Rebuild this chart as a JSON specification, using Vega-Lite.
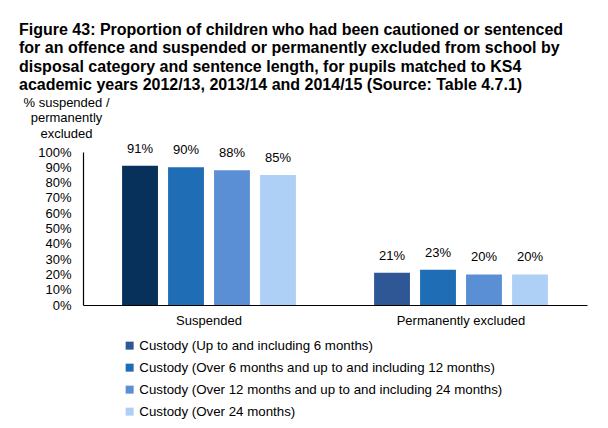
{
  "$schema": "https://vega.github.io/schema/vega-lite/v6.json",
  "width": 504,
  "height": 153,
  "autosize": {"type": "none"},
  "padding": {"left": 83, "top": 152, "right": 21, "bottom": 123},
  "background": "white",
  "config": {
    "view": {"stroke": null},
    "font": "Liberation Sans"
  },
  "title": {
    "text": [
      "Figure 43: Proportion of children who had been cautioned or sentenced",
      "for an offence and suspended or permanently excluded from school by",
      "disposal category and sentence length, for pupils matched to KS4",
      "academic years 2012/13, 2013/14 and 2014/15 (Source: Table 4.7.1)"
    ],
    "anchor": "start",
    "frame": "group",
    "dx": -64,
    "offset": 3,
    "fontSize": 16,
    "fontWeight": "bold",
    "lineHeight": 18.3,
    "color": "#000000",
    "font": "Liberation Sans"
  },
  "data": {
    "values": [
      {"group": "Suspended", "cat": "Custody (Up to and including 6 months)", "value": 0.91},
      {"group": "Suspended", "cat": "Custody (Over 6 months and up to and including 12 months)", "value": 0.90},
      {"group": "Suspended", "cat": "Custody (Over 12 months and up to and including 24 months)", "value": 0.88},
      {"group": "Suspended", "cat": "Custody (Over 24 months)", "value": 0.85},
      {"group": "Permanently excluded", "cat": "Custody (Up to and including 6 months)", "value": 0.21},
      {"group": "Permanently excluded", "cat": "Custody (Over 6 months and up to and including 12 months)", "value": 0.23},
      {"group": "Permanently excluded", "cat": "Custody (Over 12 months and up to and including 24 months)", "value": 0.20},
      {"group": "Permanently excluded", "cat": "Custody (Over 24 months)", "value": 0.20}
    ]
  },
  "encoding": {
    "x": {
      "field": "group",
      "type": "nominal",
      "sort": ["Suspended", "Permanently excluded"],
      "scale": {"paddingInner": 0, "paddingOuter": 0},
      "axis": {
        "title": null,
        "labelAngle": 0,
        "labelFontSize": 13,
        "labelColor": "#000000",
        "labelPadding": 9,
        "ticks": false,
        "tickSize": 0,
        "domainColor": "#000000",
        "domainWidth": 1.2
      }
    },
    "xOffset": {
      "field": "cat",
      "type": "nominal",
      "sort": [
        "Custody (Up to and including 6 months)",
        "Custody (Over 6 months and up to and including 12 months)",
        "Custody (Over 12 months and up to and including 24 months)",
        "Custody (Over 24 months)"
      ],
      "scale": {"paddingInner": 0.22, "paddingOuter": 0.85}
    },
    "y": {
      "field": "value",
      "type": "quantitative",
      "scale": {"domain": [0, 1]},
      "axis": {
        "title": ["% suspended /", "permanently", "excluded"],
        "titleAngle": 0,
        "titleAlign": "center",
        "titleBaseline": "top",
        "titleX": -17,
        "titleY": -56,
        "titleFontSize": 13,
        "titleFontWeight": "normal",
        "titleLineHeight": 15.5,
        "titleColor": "#000000",
        "format": ".0%",
        "values": [0, 0.1, 0.2, 0.3, 0.4, 0.5, 0.6, 0.7, 0.8, 0.9, 1],
        "labelFontSize": 13,
        "labelColor": "#000000",
        "labelPadding": 12,
        "ticks": false,
        "tickSize": 0,
        "grid": false,
        "domainColor": "#000000",
        "domainWidth": 1.2
      }
    }
  },
  "layer": [
    {
      "mark": {"type": "bar"},
      "encoding": {
        "color": {
          "condition": {
            "test": "datum.group === 'Suspended' && datum.cat === 'Custody (Up to and including 6 months)'",
            "value": "#07305a"
          },
          "field": "cat",
          "type": "nominal",
          "sort": [
            "Custody (Up to and including 6 months)",
            "Custody (Over 6 months and up to and including 12 months)",
            "Custody (Over 12 months and up to and including 24 months)",
            "Custody (Over 24 months)"
          ],
          "scale": {
            "domain": [
              "Custody (Up to and including 6 months)",
              "Custody (Over 6 months and up to and including 12 months)",
              "Custody (Over 12 months and up to and including 24 months)",
              "Custody (Over 24 months)"
            ],
            "range": ["#2f5796", "#1f6db5", "#5a8fd6", "#afd0f6"]
          },
          "legend": {
            "title": null,
            "orient": "none",
            "legendX": 40,
            "legendY": 187,
            "symbolType": "square",
            "symbolSize": 64,
            "symbolStrokeWidth": 0,
            "labelFontSize": 13.3,
            "labelColor": "#000000",
            "labelLimit": 500,
            "labelOffset": 3,
            "rowPadding": 8
          }
        }
      }
    },
    {
      "mark": {"type": "text", "dy": -10, "fontSize": 13, "color": "#000000", "baseline": "bottom"},
      "encoding": {
        "text": {"field": "value", "type": "quantitative", "format": ".0%"}
      }
    }
  ]
}
